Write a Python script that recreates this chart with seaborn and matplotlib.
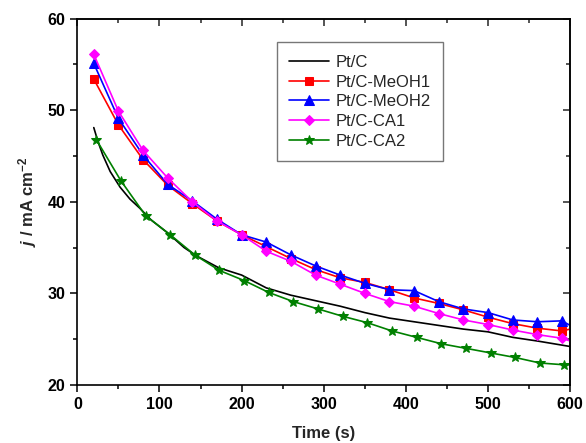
import numpy as np
import pandas as pd
import matplotlib
matplotlib.use("Agg")
import matplotlib.pyplot as plt
import seaborn as sns
from matplotlib.ticker import MultipleLocator

# time points where markers sit (s), plus end of the record
t_marks = [20, 50, 80, 110, 140, 170, 200, 230, 260, 290,
           320, 350, 380, 410, 440, 470, 500, 530, 560, 590, 600]
t_green = [23, 53, 83, 113, 143, 173, 203, 233, 263, 293,
           323, 353, 383, 413, 443, 473, 503, 533, 563, 593, 600]
t_black = [20, 25, 31, 40, 52, 64, 76, 90, 110, 130, 145, 172, 200,
           230, 260, 290, 320, 350, 380, 410, 440, 470, 500, 530, 560, 600]

j_ptc = [48.1, 46.6, 45.1, 43.3, 41.6, 40.3, 39.3, 38.0, 36.6, 35.0, 34.1, 32.8, 32.0,
         30.6, 29.8, 29.2, 28.6, 27.9, 27.3, 26.9, 26.5, 26.1, 25.8, 25.2, 24.8, 24.2]
j_meoh1 = [53.4, 48.4, 44.6, 41.8, 39.8, 37.9, 36.4, 35.1, 33.8, 32.6,
           31.7, 31.2, 30.4, 29.5, 28.9, 28.2, 27.4, 26.7, 26.2, 25.9, 26.1]
j_meoh2 = [55.1, 49.1, 45.1, 41.9, 40.1, 38.1, 36.4, 35.6, 34.2, 33.0,
           32.0, 31.1, 30.4, 30.3, 29.1, 28.3, 27.9, 27.1, 26.9, 27.0, 26.5]
j_ca1 = [56.1, 49.9, 45.6, 42.6, 40.0, 37.9, 36.4, 34.6, 33.5, 32.0,
         31.0, 30.0, 29.1, 28.6, 27.8, 27.1, 26.6, 26.0, 25.5, 25.1, 24.8]
j_ca2 = [46.8, 42.3, 38.5, 36.4, 34.2, 32.5, 31.4, 30.1, 29.1, 28.3,
         27.5, 26.8, 25.9, 25.2, 24.5, 24.0, 23.5, 23.0, 22.4, 22.2, 22.2]

sns.set_style("ticks")
plt.rcParams["font.family"] = ["Liberation Sans", "DejaVu Sans"]
plt.rcParams["mathtext.fontset"] = "custom"
plt.rcParams["mathtext.rm"] = "Liberation Sans:bold"
plt.rcParams["mathtext.it"] = "Liberation Sans:italic:bold"

fig = plt.figure(figsize=(5.86, 4.43), dpi=100)
ax = fig.add_axes([0.132, 0.131, 0.841, 0.827])

series = [
    ("Pt/C", t_black, j_ptc, "black", None, 0),
    ("Pt/C-MeOH1", t_marks, j_meoh1, "#ff0000", "s", 5.5),
    ("Pt/C-MeOH2", t_marks, j_meoh2, "#0000ff", "^", 6.5),
    ("Pt/C-CA1", t_marks, j_ca1, "#ff00ff", "D", 5.5),
    ("Pt/C-CA2", t_green, j_ca2, "#008000", "*", 7.5),
]

for name, t, j, col, mk, ms in series:
    df = pd.DataFrame({"t": t, "j": j})
    kw = {}
    if mk is not None:
        kw = dict(marker=mk, markersize=ms, markevery=list(range(len(t) - 1)),
                  markeredgecolor=col, markerfacecolor=col)
    sns.lineplot(data=df, x="t", y="j", ax=ax, color=col, lw=1.2, sort=False,
                 estimator=None, label=name, **kw)

ax.set_xlim(0, 600)
ax.set_ylim(20, 60)
ax.xaxis.set_major_locator(MultipleLocator(100))
ax.xaxis.set_minor_locator(MultipleLocator(50))
ax.yaxis.set_major_locator(MultipleLocator(10))
ax.yaxis.set_minor_locator(MultipleLocator(5))

for s in ax.spines.values():
    s.set_visible(True)
    s.set_linewidth(1.2)
    s.set_color("black")

ax.tick_params(which="both", direction="out", top=False, right=False,
               width=1.1, colors="black")
ax.tick_params(which="major", length=5, labelsize=11.5)
ax.tick_params(which="minor", length=3)
for lab in ax.get_xticklabels() + ax.get_yticklabels():
    lab.set_fontweight("bold")

# mirrored inward ticks on top and right
axt = ax.secondary_xaxis("top")
axt.xaxis.set_major_locator(MultipleLocator(100))
axt.xaxis.set_minor_locator(MultipleLocator(50))
axt.tick_params(which="both", direction="in", labeltop=False, width=1.1)
axt.tick_params(which="major", length=5)
axt.tick_params(which="minor", length=3)
axr = ax.secondary_yaxis("right")
axr.yaxis.set_major_locator(MultipleLocator(10))
axr.yaxis.set_minor_locator(MultipleLocator(5))
axr.tick_params(which="both", direction="in", labelright=False, width=1.1)
axr.tick_params(which="major", length=5)
axr.tick_params(which="minor", length=3)
for sp in list(axt.spines.values()) + list(axr.spines.values()):
    sp.set_linewidth(1.2)

ax.set_xlabel("Time (s)", fontsize=12, fontweight="bold", labelpad=10)
ax.set_ylabel(r"$\it{j}$ / mA cm$^{-2}$", fontsize=12, fontweight="bold", labelpad=6)

leg = ax.legend(loc="upper left", bbox_to_anchor=(0.405, 0.935), fontsize=12,
                frameon=True, fancybox=False, edgecolor="#555555",
                handlelength=2.4, labelspacing=0.28, borderpad=0.75,
                handletextpad=0.35, borderaxespad=0)
leg.get_frame().set_linewidth(1.0)

fig.savefig("out.png", dpi=100)
